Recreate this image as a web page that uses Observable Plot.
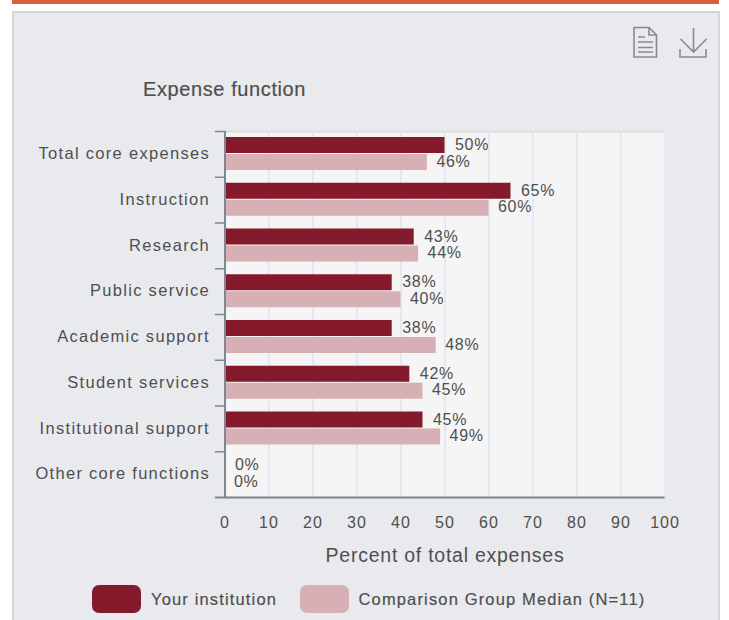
<!DOCTYPE html>
<html><head><meta charset="utf-8">
<script src="https://cdn.jsdelivr.net/npm/d3@7"></script>
<script src="https://cdn.jsdelivr.net/npm/@observablehq/plot@0.6"></script>
<style>
html,body{margin:0;padding:0;background:#fff;overflow:hidden}
body{font-family:"Liberation Sans",Arial,sans-serif;color:#4f4f4f}
#stage{position:relative;width:729px;height:620px;overflow:hidden}
#topbar{position:absolute;left:12px;top:0;width:707px;height:4px;background:#d6623c}
#panel{position:absolute;left:12px;top:11px;width:708px;height:620px;background:#e9eaee;border:2px solid #d6d6d6;box-sizing:border-box}
#chart{position:absolute;left:0;top:0}
#title{position:absolute;left:143px;top:77px;font-size:20px;line-height:24px;white-space:nowrap;letter-spacing:.6px;-webkit-text-stroke:.2px #4f4f4f}
.sw{position:absolute;top:585px;width:49px;height:28px;border-radius:7px}
.lg{position:absolute;top:588px;font-size:16.500px;line-height:22px;white-space:nowrap;letter-spacing:1.15px;-webkit-text-stroke:.2px #4f4f4f}
#icons{position:absolute;left:0;top:0}
#chart text{-webkit-text-stroke:.2px #4f4f4f}
g[aria-label="y-axis tick label"] text{letter-spacing:1.3px}
g[aria-label="x-axis tick label"] text{letter-spacing:1px}
.val text{letter-spacing:.7px}
.xlab text{letter-spacing:.75px}
</style></head><body>
<div id="stage">
<div id="topbar"></div>
<div id="panel"></div>
<div id="chart"></div>
<svg id="icons" width="729" height="70" fill="none" stroke="#8a8a8a" stroke-width="1.6">
<path d="M634 27.500h15l7.500 7.500v22h-22.500z"/><path d="M649 27.500v7.500h7.500"/>
<path d="M638 37h7M638 42h15M638 47.500h15M638 52h15"/>
<path d="M693.500 28v24M680.500 39l13 13 13-13M680 49v8h26v-8"/>
</svg>
<div id="title">Expense function</div>
<div class="sw" style="left:91.500px;background:#851a2c"></div>
<div class="lg" style="left:151px">Your institution</div>
<div class="sw" style="left:299.500px;background:#d7b0b6"></div>
<div class="lg" style="left:358.500px">Comparison Group Median (N=11)</div>
</div>
<script>
const categories = ["Total core expenses","Instruction","Research","Public service","Academic support","Student services","Institutional support","Other core functions"];
const yourInstitution = [50,65,43,38,38,42,45,0];
const comparisonMedian = [46,60,44,40,48,45,49,0];
const xTicks = [0,10,20,30,40,50,60,70,80,90,100];
const seriesNames = ["Your institution","Comparison Group Median (N=11)"];
const dark = "#851a2c", light = "#d7b0b6", ink = "#4f4f4f";

const rows1 = categories.map((c,i)=>({c,v:yourInstitution[i]}));
const rows2 = categories.map((c,i)=>({c,v:comparisonMedian[i]}));
const halfBand = 366/8/2;

const plot = Plot.plot({
  width:729, height:620,
  marginLeft:224.500, marginRight:64.500, marginTop:131, marginBottom:123,
  style:{background:"transparent",fontFamily:'"Liberation Sans",Arial,sans-serif',color:ink,overflow:"visible"},
  x:{domain:[0,100]},
  y:{type:"band",domain:categories,padding:0,align:0.5,round:false},
  marks:[
    Plot.frame({fill:"#f5f5f5",stroke:"#dcdde2",strokeWidth:2}),
    Plot.ruleX(xTicks.slice(1),{stroke:"#e4e8f3",strokeWidth:2}),
    Plot.barX(rows1,{y:"c",x:"v",fill:dark,insetTop:6,insetBottom:23.750}),
    Plot.barX(rows2,{y:"c",x:"v",fill:light,insetTop:23,insetBottom:6.750}),
    Plot.text(rows1,{y:"c",x:"v",text:d=>d.v+"%",textAnchor:"start",dx:10,dy:-9.500,fill:ink,fontSize:16,className:"val"}),
    Plot.text(rows2,{y:"c",x:"v",text:d=>d.v+"%",textAnchor:"start",dx:9,dy:7,fill:ink,fontSize:16,className:"val"}),
    Plot.ruleX([0],{stroke:"#7f8790",strokeWidth:2}),
    Plot.ruleY(categories,{y:d=>d,x1:-2.200,x2:0,dy:-halfBand,stroke:"#7f8790",strokeWidth:1.500}),
    Plot.ruleY(categories.slice(-1),{y:d=>d,x1:-2.200,x2:100,dy:halfBand,stroke:"#7f8790",strokeWidth:2}),
    Plot.axisY({tickSize:0,tickPadding:15,fontSize:16.500,label:null,fill:ink,dy:-0.500}),
    Plot.axisX({ticks:xTicks,tickSize:0,tickPadding:19,fontSize:16,label:null,fill:ink}),
    Plot.text(["Percent of total expenses"],{frameAnchor:"bottom",dy:64,fontSize:19.500,fill:ink,text:d=>d,className:"xlab"})
  ]
});
document.getElementById("chart").appendChild(plot);
</script>
</body></html>
